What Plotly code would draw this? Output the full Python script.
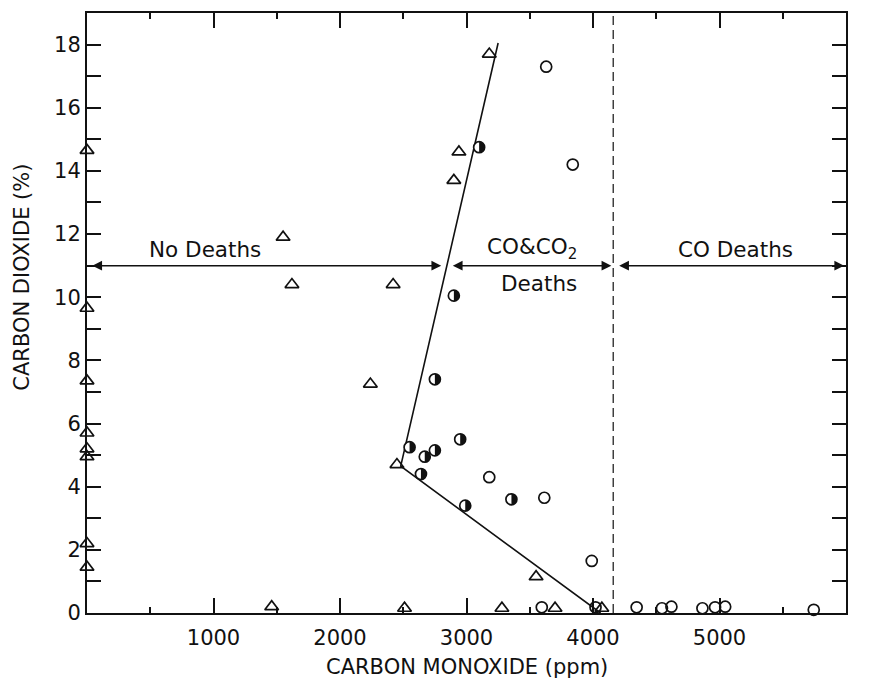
import plotly.graph_objects as go

# ---------------- data ----------------
# No deaths (open triangles): CO ppm, CO2 %
nodeath_co = [0, 0, 0, 0, 0, 0, 0, 0,
              1550, 1620, 2420, 2240, 2450, 2940, 2900, 3180, 3550,
              1460, 2510, 3280, 3700, 4070]
nodeath_co2 = [14.65, 9.65, 7.35, 5.7, 5.2, 4.95, 2.2, 1.45,
               11.9, 10.4, 10.4, 7.25, 4.7, 14.6, 13.7, 17.7, 1.15,
               0.2, 0.15, 0.15, 0.15, 0.15]

# CO deaths (open circles)
codeath_co = [3630, 3840, 3180, 3615, 3990, 3595, 4020, 4345, 4545, 4620, 4865, 4965, 5045, 5745]
codeath_co2 = [17.3, 14.2, 4.3, 3.65, 1.65, 0.18, 0.18, 0.18, 0.15, 0.2, 0.15, 0.18, 0.2, 0.1]

# CO & CO2 deaths (half-filled circles)
both_co = [3100, 2900, 2750, 2950, 2550, 2750, 2670, 2640, 2990, 3355]
both_co2 = [14.75, 10.05, 7.4, 5.5, 5.25, 5.15, 4.95, 4.4, 3.4, 3.6]

# boundary lines
fit_co = [3250, 2480, 4060]
fit_co2 = [18.05, 4.65, 0.0]
boundary_co = 4160
boundary_co2 = [0, 19]

# region arrows (start, end) at CO2 = 11 %
arrow_co2 = 11
region_starts = [30, 2880, 4195]
region_ends = [2800, 4145, 5985]
region_labels = ["No Deaths", "CO&CO<sub>2</sub>", "CO Deaths"]
region_label_co = [930, 3520, 5130]
region_label_co2 = [11.5, 11.55, 11.5]
deaths_label = "Deaths"
deaths_label_co = 3575
deaths_label_co2 = 10.45

x_ticks = [1000, 2000, 3000, 4000, 5000, 6000]
y_ticks = [0, 2, 4, 6, 8, 10, 12, 14, 16, 18]

FONT = "DejaVu Sans"
INK = "#111111"
MSIZE = 12

fig = go.Figure()

fig.add_trace(go.Scatter(
    x=fit_co, y=fit_co2, mode="lines",
    line=dict(color=INK, width=1.6), showlegend=False, hoverinfo="skip"))

fig.add_trace(go.Scatter(
    x=[boundary_co, boundary_co], y=boundary_co2, mode="lines",
    line=dict(color="#333333", width=1.4, dash="9px,5px"),
    showlegend=False, hoverinfo="skip"))

fig.add_trace(go.Scatter(
    x=nodeath_co, y=nodeath_co2, mode="markers", name="No deaths",
    marker=dict(symbol="triangle-up-open", size=MSIZE, color=INK, line=dict(width=1.7)),
    cliponaxis=False, showlegend=False))

fig.add_trace(go.Scatter(
    x=codeath_co, y=codeath_co2, mode="markers", name="CO deaths",
    marker=dict(symbol="circle-open", size=MSIZE - 1, color=INK, line=dict(width=1.7)),
    cliponaxis=False, showlegend=False))

# half-filled circles: white disc with outline + right half filled (pixel-sized path)
fig.add_trace(go.Scatter(
    x=both_co, y=both_co2, mode="markers", name="CO & CO2 deaths",
    marker=dict(symbol="circle", size=MSIZE - 1, color="white", line=dict(width=1.7, color=INK)),
    cliponaxis=False, showlegend=False))

r = (MSIZE - 1) / 2.0
k = 0.5523 * r
half_path = (f"M 0,{-r} C {k},{-r} {r},{-k} {r},0 C {r},{k} {k},{r} 0,{r} Z")
shapes = []
for cx, cy in zip(both_co, both_co2):
    shapes.append(dict(type="path", xref="x", yref="y", xsizemode="pixel", ysizemode="pixel",
                       xanchor=cx, yanchor=cy, path=half_path,
                       fillcolor=INK, line=dict(width=0), layer="above"))

annotations = []
for s, e in zip(region_starts, region_ends):
    annotations.append(dict(
        x=e, y=arrow_co2, ax=s, ay=arrow_co2, xref="x", yref="y", axref="x", ayref="y",
        text="", showarrow=True, arrowhead=2, arrowside="end+start",
        arrowsize=1.3, arrowwidth=1.5, arrowcolor=INK, standoff=0, startstandoff=0))
for lab, lx, ly in zip(region_labels, region_label_co, region_label_co2):
    annotations.append(dict(x=lx, y=ly, xref="x", yref="y", text=lab, showarrow=False,
                            font=dict(family=FONT, size=21.5, color=INK)))
annotations.append(dict(x=deaths_label_co, y=deaths_label_co2, xref="x", yref="y",
                        text=deaths_label, showarrow=False,
                        font=dict(family=FONT, size=21.5, color=INK)))
# axis titles
annotations.append(dict(x=0.5, y=-0.09, xref="paper", yref="paper",
                        text="CARBON MONOXIDE (ppm)", showarrow=False,
                        xanchor="center", yanchor="middle",
                        font=dict(family=FONT, size=21, color=INK)))
annotations.append(dict(x=-0.086, y=0.56, xref="paper", yref="paper",
                        text="CARBON DIOXIDE (%)", showarrow=False, textangle=-90,
                        xanchor="center", yanchor="middle",
                        font=dict(family=FONT, size=21, color=INK)))

fig.update_layout(
    width=871, height=682,
    margin=dict(l=87, r=25, t=13, b=69),
    paper_bgcolor="white", plot_bgcolor="white",
    font=dict(family=FONT, size=21, color=INK),
    annotations=annotations,
    shapes=shapes,
    xaxis=dict(range=[0, 6000], tickvals=x_ticks, ticks="inside", ticklen=15, tickwidth=1.5,
               tickcolor=INK, showline=True, linecolor=INK, linewidth=2, mirror="ticks",
               showgrid=False, zeroline=False, ticklabelstandoff=5,
               tickfont=dict(family=FONT, size=21, color=INK),
               minor=dict(dtick=500, tick0=0, ticks="inside", ticklen=6, tickwidth=1.5,
                          tickcolor=INK, showgrid=False)),
    yaxis=dict(range=[0, 19], tickvals=y_ticks, ticks="inside", ticklen=14, tickwidth=1.5,
               tickcolor=INK, showline=True, linecolor=INK, linewidth=2, mirror="ticks",
               showgrid=False, zeroline=False,
               tickfont=dict(family=FONT, size=21, color=INK),
               minor=dict(dtick=1, tick0=0, ticks="inside", ticklen=14, tickwidth=1.5,
                          tickcolor=INK, showgrid=False)),
)

fig.write_html("out.html")
